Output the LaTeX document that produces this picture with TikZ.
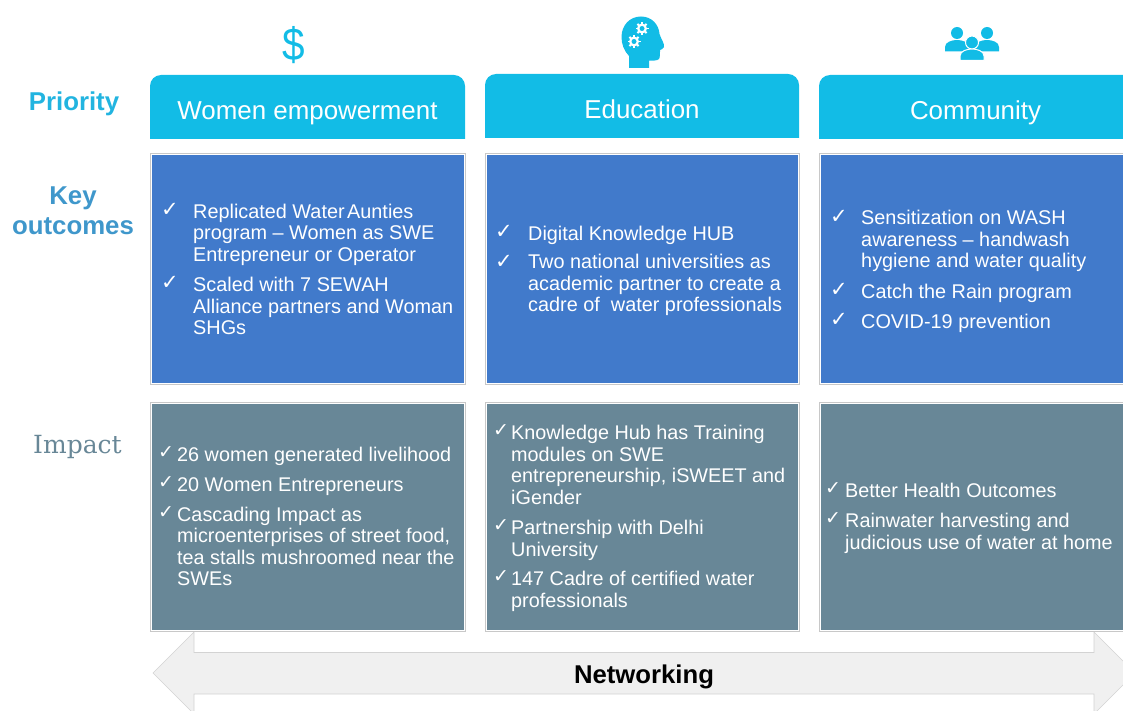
\documentclass[tikz,border=0pt]{standalone}
\usepackage{fontspec}
\setmainfont{Liberation Sans}
\newfontfamily\checkfont{DejaVu Sans}
\newfontfamily\slabfont{DejaVu Serif}
\definecolor{headc}{HTML}{12BCE6}
\definecolor{blueb}{HTML}{417ACB}
\definecolor{slateb}{HTML}{688797}
\definecolor{keyc}{HTML}{3F97CB}
\definecolor{prioc}{HTML}{22B4E0}
\definecolor{edgec}{HTML}{C8C8C8}
\definecolor{arrowc}{HTML}{F0F0F0}
\tikzset{
  cellbox/.style={draw=edgec,line width=1pt,fill=#1,inner sep=0pt,outer sep=0pt,anchor=north west},
  headtxt/.style={text=white,font=\fontsize{25.9}{28}\selectfont,inner sep=0pt,anchor=base},
  btxt/.style={text=white,font=\fontsize{19.85}{21.6}\selectfont,align=left,anchor=west,inner sep=0pt},
  stxt/.style={text=white,font=\fontsize{19.8}{21.6}\selectfont,align=left,anchor=west,inner sep=0pt},
  chk/.style={text=white,font=\checkfont\fontsize{21}{22}\selectfont,inner sep=0pt},
  chks/.style={text=white,font=\checkfont\fontsize{19}{19}\selectfont,inner sep=0pt},
  lab/.style={font=\bfseries\fontsize{25.8}{30}\selectfont,align=center,inner sep=0pt},
}
\newcommand{\cell}[6]{% name x y w h colour
  \node[cellbox=#6,minimum width=#4pt,minimum height=#5pt] (#1) at (#2,#3) {};
  \draw[white,line width=0.7pt] (#2+0.85,#3+0.85) rectangle (#2+#4-0.85,#3+#5-0.85);
}
\newcommand{\headcell}[5]{% name x y w label
  \fill[headc] (#2,#3+64) [rounded corners=11pt] -- (#2,#3) -- (#2+#4,#3) [sharp corners] -- (#2+#4,#3+64) -- cycle;
  \node[headtxt] (#1) at (#2+#4/2,#3+45) {#5};
}
\newcommand{\gear}[3]{%
  \fill[white] (#1,#2) circle[radius=#3];
  \foreach \a in {0,45,...,315}{\draw[white,line width=1.9pt] (#1,#2) -- ++(\a:#3+1.5);}
  \fill[headc] (#1,#2) circle[radius=#3*0.5];
}
\begin{document}
\begin{tikzpicture}[x=1pt,y=-1pt]
\useasboundingbox (0,0) rectangle (1123,711);
\clip (0,0) rectangle (1123,711);
% arrow
\draw[fill=arrowc,draw=edgec!80,line width=0.6pt]
 (153,673) -- (194,632) -- (194,652.5) -- (1094,652.5) -- (1094,632) -- (1135,673) -- (1094,714) -- (1094,694) -- (194,694) -- (194,714) -- cycle;
\node[font=\bfseries\fontsize{25.7}{30}\selectfont,inner sep=0pt,anchor=base] (net) at (644,683) {Networking};
% headers
\headcell{h1}{150}{75}{315}{Women empowerment}
\headcell{h2}{485}{74}{314}{Education}
\headcell{h3}{819}{75}{340}{}
\node[headtxt] (h3t) at (975.5,120) {Community};
% row labels
\node[lab,text=prioc] (prio) at (74,103.5) {Priority};
\node[lab,text=keyc] (key) at (73,211) {Key\\outcomes};
\node[text=slateb,font=\slabfont\fontsize{25}{28}\selectfont,inner sep=0pt] (imp) at (77.5,447) {Impact};
% cells
\cell{b1}{150}{154}{315}{230}{blueb}
\cell{b2}{485}{154}{314}{230}{blueb}
\cell{b3}{819}{154}{340}{230}{blueb}
\cell{s1}{150}{402}{315}{229}{slateb}
\cell{s2}{485}{402}{314}{229}{slateb}
\cell{s3}{819}{402}{340}{229}{slateb}
% blue 1
\node[chk] (c1) at (170,210) {✓};
\node[btxt] (t1) at (193,234.5) {Replicated Water\hspace{2.5pt}Aunties\\program – Women as SWE\\Entrepreneur or Operator};
\node[chk] (c2) at (170,283) {✓};
\node[btxt] (t2) at (193,306) {Scaled with 7 SEWAH\\Alliance partners and Woman\\SHGs};
% blue 2
\node[chk] (c3) at (504,232) {✓};
\node[btxt] (t3) at (528,235) {Digital Knowledge HUB};
\node[chk] (c4) at (504,262) {✓};
\node[btxt] (t4) at (528,285) {Two national universities as\\academic partner to create a\\cadre of\ \ water professionals};
% blue 3
\node[chk] (c5) at (839,217) {✓};
\node[btxt] (t5) at (861,241) {Sensitization on WASH\\awareness – handwash\\hygiene and water quality};
\node[chk] (c6) at (839,290) {✓};
\node[btxt] (t6) at (861,293) {Catch the Rain program};
\node[chk] (c7) at (839,320) {✓};
\node[btxt] (t7) at (861,323) {COVID-19 prevention};
% slate 1
\node[chks] (c8) at (166,453) {✓};
\node[stxt] (t8) at (177,456) {26 women generated livelihood};
\node[chks] (c9) at (166,483) {✓};
\node[stxt] (t9) at (177,487) {20 Women Entrepreneurs};
\node[chks] (c10) at (166,513) {✓};
\node[stxt] (t10) at (177,546.5) {Cascading Impact as\\microenterprises of street food,\\tea stalls mushroomed near the\\SWEs};
% slate 2
\node[chks] (c11) at (501,431) {✓};
\node[stxt] (t11) at (511,465) {Knowledge Hub has Training\\modules on SWE\\entrepreneurship, iSWEET and\\iGender};
\node[chks] (c12) at (501,526) {✓};
\node[stxt] (t12) at (511,540.5) {Partnership with Delhi\\University};
\node[chks] (c13) at (501,577) {✓};
\node[stxt] (t13) at (511,591.5) {147 Cadre of certified water\\professionals};
% slate 3
\node[chks] (c14) at (833,489) {✓};
\node[stxt] (t14) at (845,490) {Better Health Outcomes};
\node[chks] (c15) at (833,519) {✓};
\node[stxt] (t15) at (845,533.5) {Rainwater harvesting and\\judicious use of water at home};
% dollar icon
\node[text=headc,font=\fontsize{46}{50}\selectfont,inner sep=0pt,xscale=0.88] (dollar) at (294,45.5) {\$};
% head icon
\fill[headc] (629,68) -- (629,56) .. controls (624,51) and (621.5,44) .. (621.5,37)
  .. controls (621.5,25) and (630,16.5) .. (641,16.5)
  .. controls (652,16.5) and (659,25) .. (659.5,34)
  .. controls (661,39) and (664.5,43) .. (664,47)
  .. controls (663.5,49) and (661,49.5) .. (660,50)
  .. controls (660,53) and (660,58) .. (659,59)
  .. controls (657,61) and (653,60.5) .. (649,60.5) -- (649,68) -- cycle;
\gear{642}{28.5}{5}
\gear{634}{41.5}{5}
% people icon
\foreach \cx in {957,987}{
  \fill[headc] (\cx,33) circle[radius=6];
  \fill[headc] (\cx-12,51.5) -- (\cx-12,47) .. controls (\cx-12,42) and (\cx-5,40) .. (\cx,40) .. controls (\cx+5,40) and (\cx+12,42) .. (\cx+12,47) -- (\cx+12,51.5) -- cycle;
}
\filldraw[headc,draw=white,line width=1pt] (972,42.5) circle[radius=6.5];
\filldraw[headc,draw=white,line width=1pt] (960,60.5) -- (960,56) .. controls (960,51) and (967,49) .. (972,49) .. controls (977,49) and (984,51) .. (984,56) -- (984,60.5) -- cycle;
\end{tikzpicture}
\end{document}
